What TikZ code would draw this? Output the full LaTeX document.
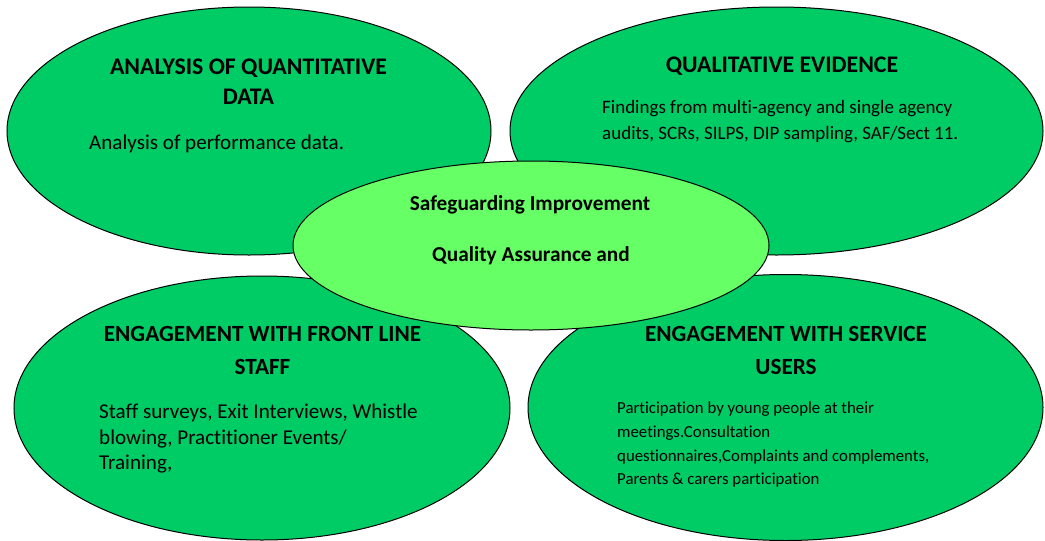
\documentclass[tikz,border=0pt]{standalone}
\usepackage{fontspec}
\setmainfont{Carlito}[Ligatures=NoCommon]
\usetikzlibrary{shapes.geometric}
\definecolor{darkfill}{HTML}{00CC66}
\definecolor{lightfill}{HTML}{66FF66}
\tikzset{
  oval/.style={ellipse, draw=black, line width=1pt, inner sep=0pt},
  outer/.style={oval, fill=darkfill},
  inner/.style={oval, fill=lightfill},
  head/.style={anchor=base, inner sep=0pt, font=\fontsize{23.8}{28}\selectfont\bfseries},
  headb/.style={anchor=base, inner sep=0pt, font=\fontsize{23.2}{28}\selectfont\bfseries},
  body/.style={anchor=base west, inner sep=0pt, font=\fontsize{21.1}{25}\selectfont},
  bodysm/.style={anchor=base west, inner sep=0pt, font=\fontsize{19}{23}\selectfont},
  bodyxs/.style={anchor=base west, inner sep=0pt, font=\fontsize{16.8}{20}\selectfont},
  ctr/.style={anchor=base, inner sep=0pt, font=\fontsize{21.3}{25}\selectfont\bfseries}
}
\begin{document}
\begin{tikzpicture}[x=1pt,y=-1pt]
\useasboundingbox (0,0) rectangle (1045,541);
% outer ellipses
\node[outer, minimum width=484pt, minimum height=248pt] (tl) at (249,131) {};
\node[outer, minimum width=533pt, minimum height=248pt] (tr) at (776.5,131) {};
\node[outer, minimum width=496pt, minimum height=264pt] (bl) at (262,408) {};
\node[outer, minimum width=515pt, minimum height=266pt] (br) at (785.5,407.5) {};
% top-left text
\node[head] (tlh1) at (248.5,74.4) {ANALYSIS OF QUANTITATIVE};
\node[head] (tlh2) at (248.5,104.4) {DATA};
\node[body] (tlb1) at (89,149) {Analysis of performance data.};
% top-right text
\node[head] (trh1) at (782,72.4) {QUALITATIVE EVIDENCE};
\node[bodysm] (trb1) at (602,113.7) {Findings from multi-agency and single agency};
\node[bodysm] (trb2) at (602,139.7) {audits, SCRs, SILPS, DIP sampling, SAF/Sect 11.};
% bottom-left text
\node[headb] (blh1) at (262.5,341.4) {ENGAGEMENT WITH FRONT LINE};
\node[headb] (blh2) at (262.5,374.4) {STAFF};
\node[body] (blb1) at (99,418.3) {Staff surveys, Exit Interviews, Whistle};
\node[body] (blb2) at (99,444.3) {blowing, Practitioner Events/};
\node[body] (blb3) at (99,469.3) {Training,};
% bottom-right text
\node[headb] (brh1) at (786,341.4) {ENGAGEMENT WITH SERVICE};
\node[headb] (brh2) at (786,374.4) {USERS};
\node[bodyxs] (brb1) at (617,413) {Participation by young people at their};
\node[bodyxs] (brb2) at (617,437) {meetings.Consultation};
\node[bodyxs] (brb3) at (617,461) {questionnaires,Complaints and complements,};
\node[bodyxs] (brb4) at (617,484) {Parents \& carers participation};
% centre ellipse
\node[inner, minimum width=476pt, minimum height=169pt] (c) at (531,245.5) {};
\node[ctr] (c1) at (530,210.7) {Safeguarding Improvement};
\node[ctr] (c2) at (531,261.7) {Quality Assurance and};
\end{tikzpicture}
\end{document}
